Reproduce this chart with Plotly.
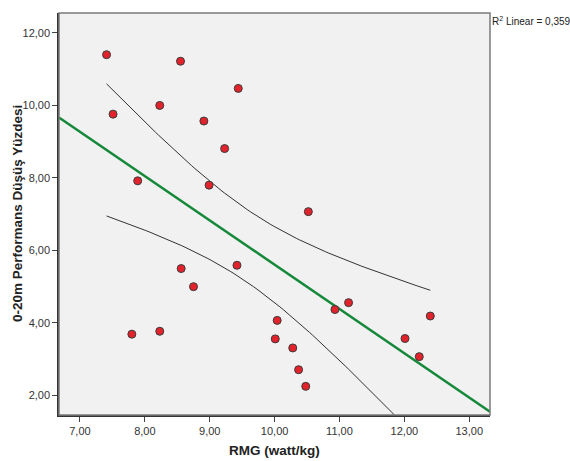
import numpy as np
import plotly.graph_objects as go

# Data
rmg = [7.41, 8.55, 7.51, 8.23, 9.44, 8.91, 9.23, 7.89, 8.99, 8.56, 9.42, 8.75,
       7.80, 8.23, 10.04, 10.01, 10.28, 10.37, 10.48, 10.93, 11.14, 12.40,
       12.01, 12.23, 10.52]
dusus = [11.40, 11.22, 9.76, 10.00, 10.47, 9.57, 8.81, 7.92, 7.80, 5.50, 5.59, 5.00,
         3.69, 3.77, 4.07, 3.56, 3.31, 2.71, 2.25, 4.37, 4.56, 4.19,
         3.57, 3.07, 7.07]
x_ticks = [7, 8, 9, 10, 11, 12, 13]
x_ticktext = ["7,00", "8,00", "9,00", "10,00", "11,00", "12,00", "13,00"]
y_ticks = [2, 4, 6, 8, 10, 12]
y_ticktext = ["2,00", "4,00", "6,00", "8,00", "10,00", "12,00"]
r2_label = "R<sup>2</sup> Linear = 0,359"
x_title = "<b>RMG (watt/kg)</b>"
y_title = "<b>0-20m Performans Düşüş Yüzdesi</b>"
x_range = [6.677, 13.32]
y_range = [1.46, 12.55]

x = np.array(rmg)
y = np.array(dusus)
n = len(x)
b1, b0 = np.polyfit(x, y, 1)
resid = y - (b0 + b1 * x)
s = np.sqrt(np.sum(resid ** 2) / (n - 2))
t_crit = 2.0687  # t(0.975, df=23)
xm = x.mean()
sxx = np.sum((x - xm) ** 2)

xl = np.array(x_range)
xc = np.linspace(x.min(), x.max(), 100)
yc = b0 + b1 * xc
hw = t_crit * s * np.sqrt(1 / n + (xc - xm) ** 2 / sxx)

fig = go.Figure()
fig.add_trace(go.Scatter(x=xc, y=yc + hw, mode="lines",
                         line=dict(color="#333333", width=1), hoverinfo="skip"))
fig.add_trace(go.Scatter(x=xc, y=yc - hw, mode="lines",
                         line=dict(color="#333333", width=1), hoverinfo="skip"))
fig.add_trace(go.Scatter(x=xl, y=b0 + b1 * xl, mode="lines",
                         line=dict(color="#15883a", width=2.5), hoverinfo="skip"))
fig.add_trace(go.Scatter(x=rmg, y=dusus, mode="markers",
                         marker=dict(color="#e3232c", size=8,
                                     line=dict(color="#3a3a3a", width=1))))

tick_font = dict(family="Liberation Sans Narrow, Arial Narrow, Liberation Sans", size=11,
                 color="#333333")
axis_common = dict(showgrid=False, zeroline=False, ticks="outside", ticklen=5,
                   tickcolor="#444444", showline=True, linecolor="#333333",
                   linewidth=1.5, tickfont=tick_font)
fig.update_xaxes(range=x_range, tickvals=x_ticks, ticktext=x_ticktext, **axis_common)
fig.update_yaxes(range=y_range, tickvals=y_ticks, ticktext=y_ticktext, **axis_common)

fig.add_shape(type="rect", xref="paper", yref="paper", x0=0, y0=0, x1=1, y1=1,
              line=dict(color="#7a7a7a", width=1.5), layer="above")

fig.add_annotation(text=x_title, xref="paper", yref="paper",
                   x=0.5, y=-(450 - 415) / (415 - 13),
                   showarrow=False, yanchor="middle", xanchor="center",
                   font=dict(family="Liberation Sans, Arial", size=13.5, color="#222222"))
fig.add_annotation(text=y_title, xref="paper", yref="paper",
                   x=-(59 - 17) / (490 - 59), y=0.5,
                   showarrow=False, textangle=-90, xanchor="center", yanchor="middle",
                   font=dict(family="Liberation Sans, Arial", size=13.5, color="#222222"))
fig.add_annotation(text=r2_label, xref="paper", yref="paper", x=1.0, y=1.0,
                   xanchor="left", yanchor="top", showarrow=False,
                   font=dict(family="Liberation Sans, Arial", size=10, color="#222222"))

fig.update_layout(width=570, height=461, showlegend=False,
                  margin=dict(l=59, r=80, t=13, b=46),
                  plot_bgcolor="#f0f1f0", paper_bgcolor="white")
fig.write_html("out.html", config={"displayModeBar": False},
               post_script="document.body.style.margin='0';")
